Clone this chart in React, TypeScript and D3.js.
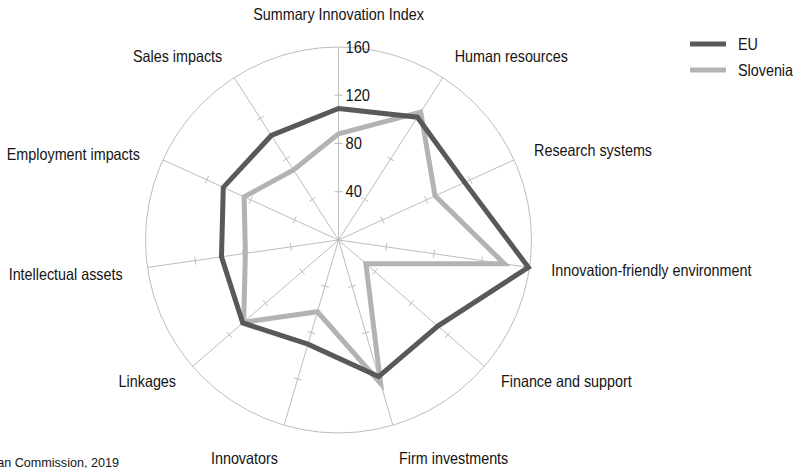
import { useEffect, useRef } from "react";
import * as d3 from "d3";

const categories = [
  "Summary Innovation Index",
  "Human resources",
  "Research systems",
  "Innovation-friendly environment",
  "Finance and support",
  "Firm investments",
  "Innovators",
  "Linkages",
  "Intellectual assets",
  "Employment impacts",
  "Sales impacts",
];
const euValues = [109, 121, 115, 159, 109, 118, 90, 105, 98, 105, 103];
const sloveniaValues = [88, 126, 88, 139, 30, 124, 62, 104, 78, 86, 69];
const tickValues = [40, 80, 120, 160];
const seriesNames = ["EU", "Slovenia"];

const FONT = '"Liberation Sans", Arial, sans-serif';
// the original uses a condensed face, squeeze the text horizontally
const SQUEEZE = 0.87;

const RadarChart = () => {
  const ref = useRef<SVGSVGElement | null>(null);

  useEffect(() => {
    const svg = d3.select(ref.current);
    svg.selectAll("*").remove();

    const cx = 338.5;
    const cy = 240;
    const R = 193;
    const colors = ["#595959", "#b3b3b3"];
    const gridColor = "#bdbdbd";

    const r = d3.scaleLinear().domain([0, 160]).range([0, R]);
    const n = categories.length;
    const angle = (i: number) => (i * 2 * Math.PI) / n;

    const label = (
      parent: d3.Selection<any, unknown, null, undefined>,
      x: number,
      y: number,
      txt: string | number,
      size: number,
      anchor = "start",
      squeeze = SQUEEZE
    ) =>
      parent
        .append("text")
        .attr("transform", `translate(${x},${y}) scale(${squeeze},1)`)
        .attr("dy", "0.35em")
        .attr("text-anchor", anchor)
        .attr("font-family", FONT)
        .attr("font-size", size)
        .attr("fill", "#141414")
        .text(txt);

    const g = svg.append("g").attr("transform", `translate(${cx},${cy})`);

    // outer ring
    g.append("circle")
      .attr("r", r(160))
      .attr("fill", "none")
      .attr("stroke", gridColor)
      .attr("stroke-width", 1);

    // spokes with small cross ticks
    categories.forEach((_, i) => {
      const a = angle(i);
      const sx = Math.sin(a);
      const sy = -Math.cos(a);
      g.append("line")
        .attr("x1", 0)
        .attr("y1", 0)
        .attr("x2", sx * r(160))
        .attr("y2", sy * r(160))
        .attr("stroke", gridColor)
        .attr("stroke-width", 1);
      tickValues.slice(0, 3).forEach((t) => {
        const px = sx * r(t);
        const py = sy * r(t);
        g.append("line")
          .attr("x1", px - sy * 4)
          .attr("y1", py + sx * 4)
          .attr("x2", px + sy * 4)
          .attr("y2", py - sx * 4)
          .attr("stroke", gridColor)
          .attr("stroke-width", 1);
      });
    });

    // series (Slovenia first so EU sits on top)
    const line = d3
      .lineRadial<number>()
      .angle((_, i) => angle(i))
      .radius((d) => r(d))
      .curve(d3.curveLinearClosed);

    [sloveniaValues, euValues].forEach((vals, k) => {
      g.append("path")
        .attr("d", line(vals))
        .attr("fill", "none")
        .attr("stroke", colors[1 - k])
        .attr("stroke-width", 5)
        .attr("stroke-linejoin", "miter");
    });

    // radial axis labels
    tickValues.forEach((t) => {
      label(g, 7, -r(t), t, 16, "start", 0.92);
    });

    // category labels
    categories.forEach((c, i) => {
      const a = angle(i);
      const sx = Math.sin(a);
      const sy = -Math.cos(a);
      const lr = 215;
      let x = sx * lr;
      let y = sy * lr;
      let anchor = "middle";
      if (i === 0) {
        y -= 11;
      } else if (sx > 0) {
        anchor = "start";
      } else {
        anchor = "end";
      }
      if (i !== 0 && sy < -0.8) y -= 3;
      if (sy > 0.9) y += 12;
      if (sx < -0.85) {
        y += 4;
        x -= 3;
      }
      label(g, x, y, c, 16.5, anchor);
    });

    // legend
    const legend = svg.append("g").attr("transform", "translate(690,44)");
    seriesNames.forEach((s, k) => {
      legend
        .append("line")
        .attr("x1", 0)
        .attr("x2", 36)
        .attr("y1", k * 26)
        .attr("y2", k * 26)
        .attr("stroke", colors[k])
        .attr("stroke-width", 5);
      label(legend, 48, k * 26, s, 16.5);
    });

    // source note (partly cut off at the left edge, as in the original)
    label(svg as any, 119, 462, "Source: European Commission, 2019", 13, "end", 0.97);
  }, []);

  return (
    <svg
      ref={ref}
      width={793}
      height={468}
      style={{ position: "absolute", left: 0, top: 0, display: "block", background: "#fff" }}
    />
  );
};

export default function App() {
  return <RadarChart />;
}
